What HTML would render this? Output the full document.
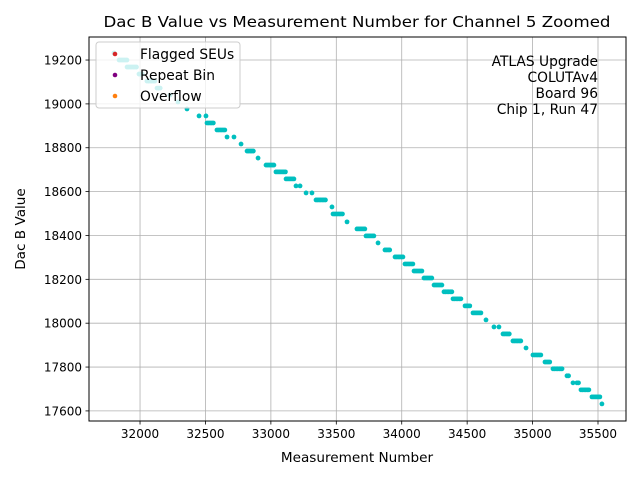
<!DOCTYPE html>
<html><head><meta charset="utf-8"><style>
body{margin:0;background:#fff}
svg text{font-family:"DejaVu Sans","Liberation Sans",sans-serif;fill:#000}
</style></head><body>
<svg id="chart" width="640" height="480" viewBox="0 0 640 480">
<rect width="640" height="480" fill="#fff"/>
<g id="grid"></g>
<g id="pts"></g>
<g id="axes"></g>
<text x="357" y="27" text-anchor="middle" font-size="15.5" textLength="507" lengthAdjust="spacingAndGlyphs">Dac B Value vs Measurement Number for Channel 5 Zoomed</text>
<text x="357" y="462" text-anchor="middle" font-size="13.6">Measurement Number</text>
<text transform="translate(25,229) rotate(-90)" text-anchor="middle" font-size="13.6">Dac B Value</text>
<g font-size="13.8" text-anchor="end">
<text x="598" y="66">ATLAS Upgrade</text>
<text x="598" y="82">COLUTAv4</text>
<text x="598" y="98">Board 96</text>
<text x="598" y="114">Chip 1, Run 47</text>
</g>
<g>
<rect x="96" y="42" width="144" height="66" rx="3" fill="#fff" fill-opacity="0.8" stroke="#ccc" stroke-width="1"/>
<circle cx="115" cy="54" r="2.3" fill="#d62728"/>
<text x="140" y="59" font-size="13.8">Flagged SEUs</text>
<circle cx="115" cy="75" r="2.3" fill="#800080"/>
<text x="140" y="80" font-size="13.8">Repeat Bin</text>
<circle cx="115" cy="96" r="2.3" fill="#ff7f0e"/>
<text x="140" y="101" font-size="13.8">Overflow</text>
</g>
</svg>
<script>
const xTicks=[32000,32500,33000,33500,34000,34500,35000,35500];
const yTicks=[17600,17800,18000,18200,18400,18600,18800,19000,19200];
const segStart=[31801,31840,31901,31992,32053,32130,32229,32290,32359,32451,32504,32512,32588,32665,32718,32772,32818,32902,32963,33039,33116,33192,33223,33269,33314,33345,33467,33475,33582,33658,33727,33819,33872,33949,34025,34094,34170,34247,34323,34392,34484,34545,34644,34705,34743,34774,34850,34950,35003,35095,35156,35225,35263,35309,35339,35370,35454,35530];
const segEnd=  [31801,31908,31977,32023,32122,32160,32229,32290,32359,32451,32504,32566,32657,32665,32718,32772,32871,32902,33024,33116,33177,33192,33223,33269,33314,33421,33467,33551,33582,33719,33788,33819,33911,34010,34086,34163,34239,34315,34392,34461,34522,34614,34644,34705,34743,34827,34919,34950,35072,35141,35225,35225,35286,35309,35362,35439,35515,35530];
const segValue=[19232,19200,19168,19136,19104,19072,19040,19009,18977,18945,18945,18913,18881,18849,18849,18817,18785,18753,18721,18690,18658,18626,18626,18594,18594,18562,18530,18498,18462,18430,18398,18366,18334,18302,18270,18238,18206,18174,18143,18111,18079,18047,18015,17983,17983,17951,17919,17887,17855,17823,17792,17792,17760,17728,17728,17696,17664,17632];
const X0=89,X1=626,Y0=37,Y1=421,xmin=31610,xmax=35714,ymin=17554,ymax=19305;
function sx(v){return X0+(v-xmin)/(xmax-xmin)*(X1-X0);}
function sy(v){return Y1-(v-ymin)/(ymax-ymin)*(Y1-Y0);}
const NS="http://www.w3.org/2000/svg";
function mk(t,a,p){const e=document.createElementNS(NS,t);for(const k in a)e.setAttribute(k,a[k]);p.appendChild(e);return e;}
const grid=document.getElementById('grid'),axes=document.getElementById('axes'),pts=document.getElementById('pts');
xTicks.forEach(t=>{const x=sx(t);
 const g=mk('line',{x1:x,x2:x,y1:Y0,y2:Y1,stroke:'#b0b0b0','stroke-width':0.8},grid);
 
 
 mk('line',{x1:x,x2:x,y1:Y1,y2:Y1+3.5,stroke:'#000','stroke-width':0.8},axes);
 const tx=mk('text',{x:x,y:Y1+17,'text-anchor':'middle','font-size':12},axes);tx.textContent=t;
 
 
});
yTicks.forEach(t=>{const y=sy(t);
 const g=mk('line',{x1:X0,x2:X1,y1:y,y2:y,stroke:'#b0b0b0','stroke-width':0.8},grid);
 
 
 mk('line',{x1:X0-3.5,x2:X0,y1:y,y2:y,stroke:'#000','stroke-width':0.8},axes);
 const tx=mk('text',{x:X0-7,y:y+4.5,'text-anchor':'end','font-size':12},axes);tx.textContent=t;
 
 
});
const fr=mk('rect',{x:X0,y:Y0,width:X1-X0,height:Y1-Y0,fill:'none',stroke:'#000','stroke-width':1},axes);


segValue.forEach((v,i)=>{
 for(let m=segStart[i];m<=segEnd[i];m+=12){
  const c=mk('circle',{cx:sx(m),cy:sy(v),r:2.4,fill:'#00bfbf'},pts);
  
  
 }
});
</script>
</body></html>
